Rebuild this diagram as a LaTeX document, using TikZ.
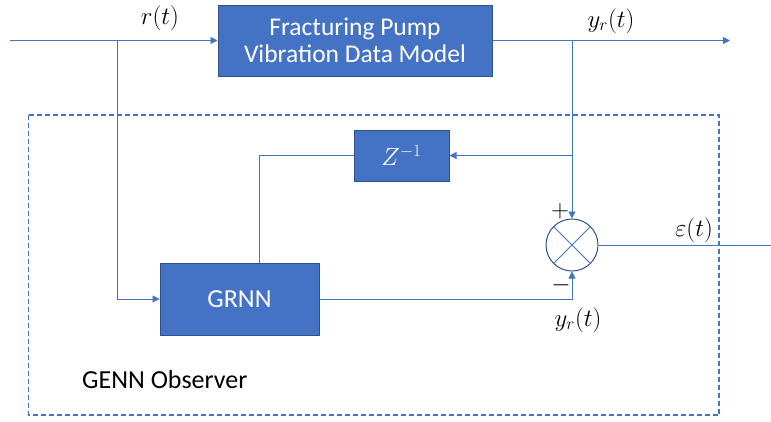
\documentclass[tikz,border=0pt]{standalone}
\usepackage{fontspec}
\setmainfont{Carlito}
\usetikzlibrary{arrows.meta}
\definecolor{lineblue}{HTML}{4472C4}
\definecolor{edgeblue}{HTML}{2F528F}
\begin{document}
\begin{tikzpicture}[x=1pt,y=-1pt,
 box/.style={draw=edgeblue, fill=lineblue, line width=1pt, text=white, font=\fontsize{25.5}{27}\selectfont, align=center, inner sep=0pt},
 conn/.style={draw=lineblue, line width=0.9pt},
 arr/.style={conn, -{Triangle[length=7pt,width=7pt]}},
 mlabel/.style={font=\fontsize{23}{27}\selectfont, inner sep=0pt},
 sumnode/.style={draw=edgeblue, fill=white, circle, minimum size=52pt, inner sep=0pt, line width=1pt}]
\useasboundingbox (0,0) rectangle (771,421);
% observer frame
\draw[lineblue, line width=1.1pt, dash pattern=on 5pt off 3pt] (28.5,115) rectangle (719,415);
% blocks
\node[box, minimum width=274pt, minimum height=71pt] (model) at (355,40.5) {Fracturing Pump\\Vibration Data Model};
\node[box, minimum width=95pt, minimum height=51pt, font=\fontsize{25}{27}\selectfont] (zbox) at (401.5,155.5) {$Z^{-1}$};
\node[box, minimum width=159pt, minimum height=72pt, font=\fontsize{26}{27}\selectfont] (grnn) at (239.5,299) {GRNN};
\node[sumnode] (sum) at (572,245) {};
\draw[lineblue, line width=0.9pt] (sum.north west) -- (sum.south east);
\draw[lineblue, line width=0.9pt] (sum.north east) -- (sum.south west);
% coordinates
\coordinate (in) at (10,40.5);
\coordinate (b1) at (117,40.5);
\coordinate (b2) at (572,40.5);
\coordinate (tap) at (572,155.5);
\coordinate (out) at (730,40.5);
\coordinate (end) at (771,245);
% connectors
\draw[arr] (in) -- (model.west);
\draw[arr] (b1) |- (grnn.west);
\draw[arr] (model.east) -- (out);
\draw[arr] (b2) -- (sum.north);
\draw[arr] (tap) -- (zbox.east);
\draw[conn] (zbox.west) -| ([xshift=19.5pt]grnn.north);
\draw[arr] (grnn.east) -| (sum.south);
\draw[conn] (sum.east) -- (end);
% labels
\node[mlabel] (lr) at (160,18) {$r(t)$};
\node[mlabel] (ly1) at (611,21) {$y_r(t)$};
\node[mlabel] (lplus) at (560,211) {$+$};
\node[mlabel] (lminus) at (561,285) {$-$};
\node[mlabel] (leps) at (694,230) {$\varepsilon(t)$};
\node[mlabel] (ly2) at (578,320) {$y_r(t)$};
\node[font=\fontsize{26}{27}\selectfont, anchor=west, inner sep=0pt] (obs) at (82,380) {GENN Observer};
\end{tikzpicture}
\end{document}
